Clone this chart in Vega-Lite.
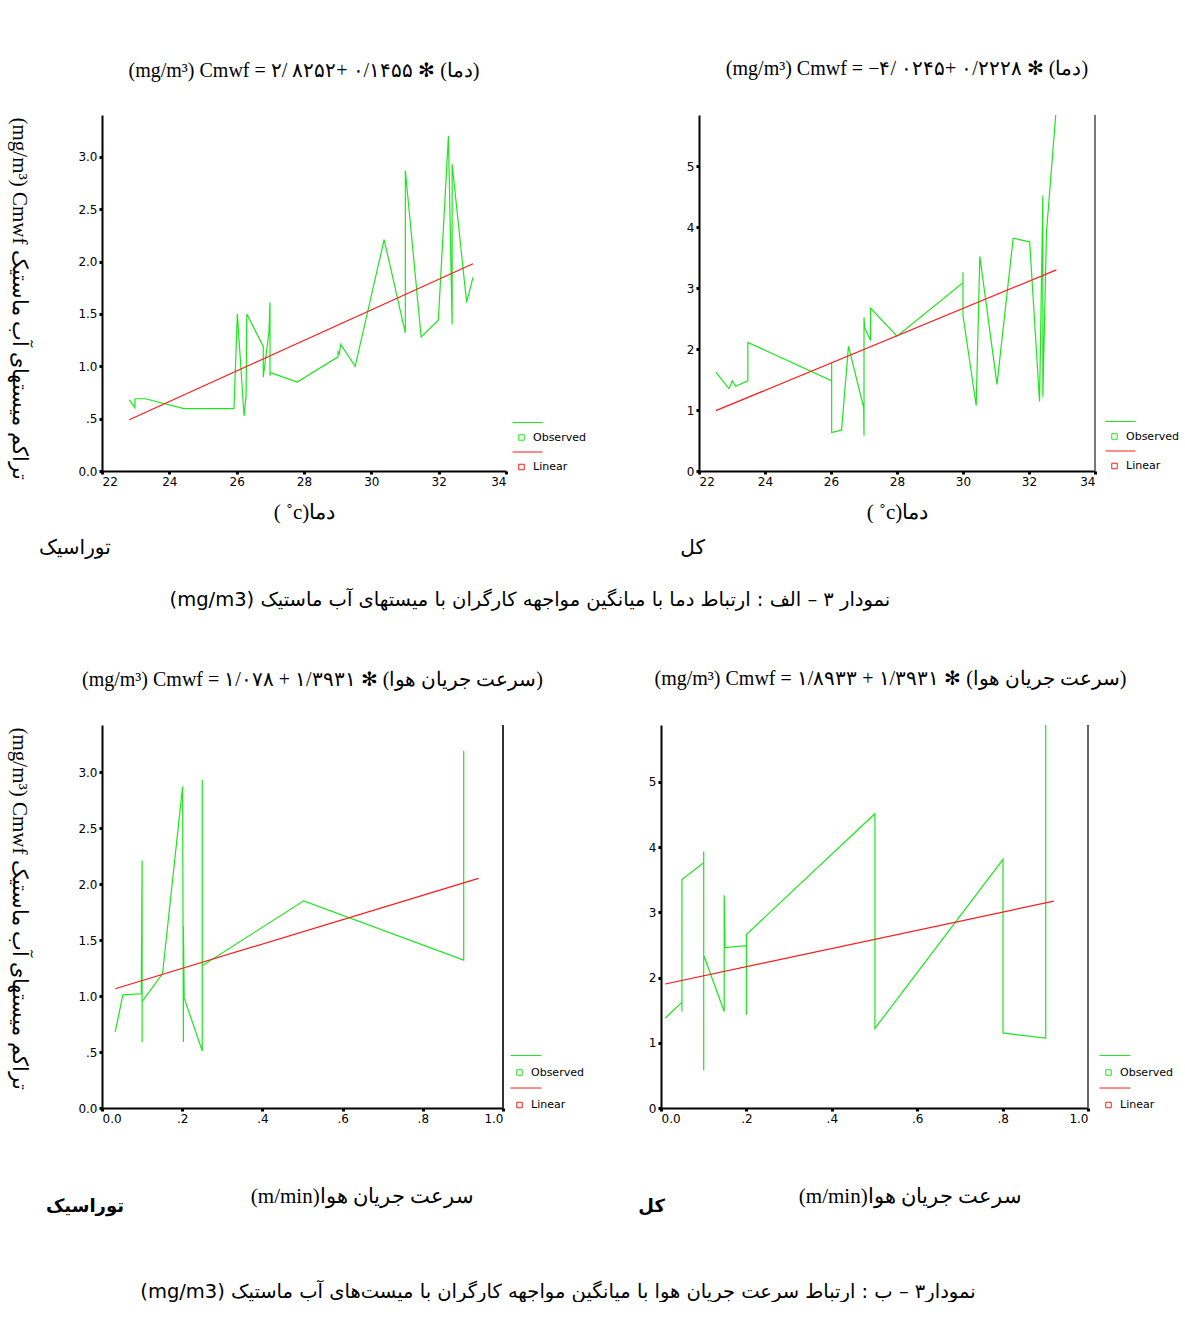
{
  "$schema": "https://vega.github.io/schema/vega-lite/v6.json",
  "padding": {"left": 8, "top": 58, "right": 0, "bottom": 0},
  "background": "white",
  "datasets": {
    "tl": [
      {"i":1,"x":22.81,"y":0.68,"s":"Observed"},{"i":2,"x":22.98,"y":0.605,"s":"Observed"},{"i":3,"x":22.98,"y":0.69,"s":"Observed"},{"i":4,"x":23.29,"y":0.69,"s":"Observed"},{"i":5,"x":24.43,"y":0.595,"s":"Observed"},{"i":6,"x":25.92,"y":0.595,"s":"Observed"},{"i":7,"x":26.02,"y":1.5,"s":"Observed"},{"i":8,"x":26.22,"y":0.525,"s":"Observed"},{"i":9,"x":26.28,"y":0.72,"s":"Observed"},{"i":10,"x":26.3,"y":1.5,"s":"Observed"},{"i":11,"x":26.79,"y":1.19,"s":"Observed"},{"i":12,"x":26.79,"y":0.895,"s":"Observed"},{"i":13,"x":26.96,"y":1.33,"s":"Observed"},{"i":14,"x":26.99,"y":1.61,"s":"Observed"},{"i":15,"x":26.99,"y":0.91,"s":"Observed"},{"i":16,"x":27.0,"y":0.94,"s":"Observed"},{"i":17,"x":27.8,"y":0.85,"s":"Observed"},{"i":18,"x":29.01,"y":1.09,"s":"Observed"},{"i":19,"x":29.01,"y":1.14,"s":"Observed"},{"i":20,"x":29.05,"y":1.12,"s":"Observed"},{"i":21,"x":29.09,"y":1.21,"s":"Observed"},{"i":22,"x":29.52,"y":1.0,"s":"Observed"},{"i":23,"x":30.38,"y":2.21,"s":"Observed"},{"i":24,"x":31.01,"y":1.32,"s":"Observed"},{"i":25,"x":31.01,"y":2.87,"s":"Observed"},{"i":26,"x":31.48,"y":1.28,"s":"Observed"},{"i":27,"x":31.99,"y":1.44,"s":"Observed"},{"i":28,"x":32.29,"y":3.2,"s":"Observed"},{"i":29,"x":32.4,"y":1.4,"s":"Observed"},{"i":30,"x":32.4,"y":2.93,"s":"Observed"},{"i":31,"x":32.83,"y":1.61,"s":"Observed"},{"i":32,"x":33.02,"y":1.85,"s":"Observed"},
      {"i":1,"x":22.81,"y":0.49,"s":"Linear"},{"i":2,"x":33.02,"y":1.98,"s":"Linear"}
    ],
    "tr": [
      {"i":1,"x":22.51,"y":1.62,"s":"Observed"},{"i":2,"x":22.91,"y":1.35,"s":"Observed"},{"i":3,"x":23.01,"y":1.48,"s":"Observed"},{"i":4,"x":23.11,"y":1.39,"s":"Observed"},{"i":5,"x":23.48,"y":1.48,"s":"Observed"},{"i":6,"x":23.48,"y":2.11,"s":"Observed"},{"i":7,"x":26.02,"y":1.48,"s":"Observed"},{"i":8,"x":26.02,"y":1.78,"s":"Observed"},{"i":9,"x":26.02,"y":0.63,"s":"Observed"},{"i":10,"x":26.32,"y":0.67,"s":"Observed"},{"i":11,"x":26.53,"y":2.05,"s":"Observed"},{"i":12,"x":26.99,"y":1.04,"s":"Observed"},{"i":13,"x":27.0,"y":0.58,"s":"Observed"},{"i":14,"x":27.0,"y":2.52,"s":"Observed"},{"i":15,"x":27.02,"y":2.35,"s":"Observed"},{"i":16,"x":27.2,"y":2.14,"s":"Observed"},{"i":17,"x":27.2,"y":2.67,"s":"Observed"},{"i":18,"x":28.0,"y":2.21,"s":"Observed"},{"i":19,"x":30.0,"y":3.09,"s":"Observed"},{"i":20,"x":30.0,"y":3.26,"s":"Observed"},{"i":21,"x":30.0,"y":2.55,"s":"Observed"},{"i":22,"x":30.4,"y":1.07,"s":"Observed"},{"i":23,"x":30.51,"y":3.52,"s":"Observed"},{"i":24,"x":31.03,"y":1.42,"s":"Observed"},{"i":25,"x":31.52,"y":3.82,"s":"Observed"},{"i":26,"x":32.02,"y":3.76,"s":"Observed"},{"i":27,"x":32.32,"y":1.14,"s":"Observed"},{"i":28,"x":32.42,"y":4.52,"s":"Observed"},{"i":29,"x":32.42,"y":1.22,"s":"Observed"},{"i":30,"x":32.53,"y":3.92,"s":"Observed"},{"i":31,"x":32.81,"y":5.84,"s":"Observed"},
      {"i":1,"x":22.51,"y":0.99,"s":"Linear"},{"i":2,"x":32.83,"y":3.3,"s":"Linear"}
    ],
    "bl": [
      {"i":1,"x":0.033,"y":0.68,"s":"Observed"},{"i":2,"x":0.052,"y":1.01,"s":"Observed"},{"i":3,"x":0.098,"y":1.02,"s":"Observed"},{"i":4,"x":0.1,"y":2.21,"s":"Observed"},{"i":5,"x":0.1,"y":0.59,"s":"Observed"},{"i":6,"x":0.1,"y":0.95,"s":"Observed"},{"i":7,"x":0.151,"y":1.2,"s":"Observed"},{"i":8,"x":0.201,"y":2.87,"s":"Observed"},{"i":9,"x":0.203,"y":0.59,"s":"Observed"},{"i":10,"x":0.203,"y":1.62,"s":"Observed"},{"i":11,"x":0.205,"y":0.98,"s":"Observed"},{"i":12,"x":0.25,"y":0.51,"s":"Observed"},{"i":13,"x":0.25,"y":2.93,"s":"Observed"},{"i":14,"x":0.25,"y":1.27,"s":"Observed"},{"i":15,"x":0.503,"y":1.85,"s":"Observed"},{"i":16,"x":0.902,"y":1.32,"s":"Observed"},{"i":17,"x":0.902,"y":3.19,"s":"Observed"},{"i":18,"x":0.902,"y":1.42,"s":"Observed"},
      {"i":1,"x":0.033,"y":1.065,"s":"Linear"},{"i":2,"x":0.939,"y":2.05,"s":"Linear"}
    ],
    "br": [
      {"i":1,"x":0.01,"y":1.38,"s":"Observed"},{"i":2,"x":0.049,"y":1.62,"s":"Observed"},{"i":3,"x":0.049,"y":1.48,"s":"Observed"},{"i":4,"x":0.049,"y":3.5,"s":"Observed"},{"i":5,"x":0.1,"y":3.76,"s":"Observed"},{"i":6,"x":0.1,"y":3.93,"s":"Observed"},{"i":7,"x":0.1,"y":0.58,"s":"Observed"},{"i":8,"x":0.1,"y":2.34,"s":"Observed"},{"i":9,"x":0.148,"y":1.48,"s":"Observed"},{"i":10,"x":0.148,"y":3.26,"s":"Observed"},{"i":11,"x":0.15,"y":2.46,"s":"Observed"},{"i":12,"x":0.2,"y":2.49,"s":"Observed"},{"i":13,"x":0.2,"y":1.43,"s":"Observed"},{"i":14,"x":0.2,"y":2.66,"s":"Observed"},{"i":15,"x":0.501,"y":4.51,"s":"Observed"},{"i":16,"x":0.501,"y":1.22,"s":"Observed"},{"i":17,"x":0.801,"y":3.81,"s":"Observed"},{"i":18,"x":0.801,"y":1.15,"s":"Observed"},{"i":19,"x":0.901,"y":1.07,"s":"Observed"},{"i":20,"x":0.901,"y":5.87,"s":"Observed"},
      {"i":1,"x":0.01,"y":1.9,"s":"Linear"},{"i":2,"x":0.92,"y":3.17,"s":"Linear"}
    ]
  },
  "concat": [
    {
      "hconcat": [
        {
          "vconcat": [
            {
              "width": 404, "height": 356,
              "title": {"text": "(mg/m³) Cmwf = ۲/ ۸۲۵۲+ ۰/۱۴۵۵ ✻ (دما)", "offset": 34, "frame": "group"},
              "data": {"name": "tl"},
              "mark": {"type": "line", "strokeWidth": 1.2},
              "encoding": {
                "x": {"field": "x", "type": "quantitative", "scale": {"domain": [22, 34], "nice": false, "zero": false},
                      "axis": {"values": [22,24,26,28,30,32,34], "format": "d", "title": "( ˚c)دما", "titlePadding": 14}},
                "y": {"field": "y", "type": "quantitative", "scale": {"domain": [0, 3.4], "nice": false},
                      "axis": {"values": [0,0.5,1,1.5,2,2.5,3], "labelExpr": "datum.value == 0 ? '0.0' : datum.value < 1 ? '.5' : format(datum.value, '.1f')",
                               "title": "(mg/m³) Cmwf تراکم میستهای آب ماستیک", "titleAngle": 90, "titlePadding": 69, "titleFontSize": 21, "titleY": 183}},
                "color": {"field": "s", "type": "nominal",
                          "scale": {"domain": ["Observed","Linear"], "range": ["#1ee61e","#ff1a1a"]},
                          "legend": {"title": null, "orient": "none", "legendX": 414, "legendY": 317, "rowPadding": 6.5, "labelOffset": 6,
                                     "symbolType": "M-3.29,-5.48L7.67,-5.48M-1,-1L1,-1L1,1L-1,1Z", "symbolSize": 30, "symbolStrokeWidth": 1, "symbolFillColor": "transparent"}},
                "order": {"field": "i", "type": "quantitative"}
              }
            }
          ],
          "title": {"text": "توراسیک", "orient": "bottom", "anchor": "start", "offset": 16, "dx": 30, "fontSize": 20, "font": "DejaVu Sans"},
          "resolve": {"scale": {"color": "independent"}, "legend": {"color": "independent"}}
        },
        {
          "vconcat": [
            {
              "width": 396, "height": 356,
              "title": {"text": "(mg/m³) Cmwf =  −۴/ ۰۲۴۵+ ۰/۲۲۲۸ ✻ (دما)", "offset": 34, "dx": 10, "frame": "group"},
              "data": {"name": "tr"},
              "layer": [
                {
                  "mark": {"type": "rule", "color": "#777", "strokeWidth": 2},
                  "encoding": {"x": {"datum": 34, "type": "quantitative"}}
                },
                {
                  "mark": {"type": "line", "strokeWidth": 1.2},
                  "encoding": {
                    "x": {"field": "x", "type": "quantitative", "scale": {"domain": [22, 34], "nice": false, "zero": false},
                          "axis": {"values": [22,24,26,28,30,32,34], "format": "d", "title": "( ˚c)دما", "titlePadding": 14}},
                    "y": {"field": "y", "type": "quantitative", "scale": {"domain": [0, 5.84], "nice": false},
                          "axis": {"values": [0,1,2,3,4,5], "format": "d", "title": null}},
                    "color": {"field": "s", "type": "nominal",
                              "scale": {"domain": ["Observed","Linear"], "range": ["#1ee61e","#ff1a1a"]},
                              "legend": {"title": null, "orient": "none", "legendX": 410, "legendY": 316, "rowPadding": 6.5, "labelOffset": 6,
                                         "symbolType": "M-3.29,-5.48L7.67,-5.48M-1,-1L1,-1L1,1L-1,1Z", "symbolSize": 30, "symbolStrokeWidth": 1, "symbolFillColor": "transparent"}},
                    "order": {"field": "i", "type": "quantitative"}
                  }
                }
              ]
            }
          ],
          "title": {"text": "کل", "orient": "bottom", "anchor": "start", "offset": 16, "dx": -6, "fontSize": 20, "font": "DejaVu Sans"},
          "resolve": {"scale": {"color": "independent"}, "legend": {"color": "independent"}}
        }
      ],
      "spacing": 94,
      "title": {"text": "(mg/m3)  نمودار ۳ – الف : ارتباط دما با میانگین مواجهه کارگران با میستهای آب ماستیک", "orient": "bottom", "anchor": "middle", "offset": 33, "dx": -64, "fontSize": 19.5, "font": "DejaVu Sans"},
      "resolve": {"scale": {"color": "independent"}, "legend": {"color": "independent"}}
    },
    {
      "hconcat": [
        {
          "vconcat": [
            {
              "width": 401, "height": 383,
              "title": {"text": "(mg/m³) Cmwf = ۱/۰۷۸ + ۱/۳۹۳۱ ✻ (سرعت جریان هوا)", "offset": 34, "dx": 10, "frame": "group"},
              "data": {"name": "bl"},
              "layer": [
                {
                  "mark": {"type": "rule", "color": "#333", "strokeWidth": 2},
                  "encoding": {"x": {"datum": 1, "type": "quantitative"}}
                },
                {
                  "mark": {"type": "line", "strokeWidth": 1.2},
                  "encoding": {
                    "x": {"field": "x", "type": "quantitative", "scale": {"domain": [0, 1], "nice": false},
                          "axis": {"values": [0,0.2,0.4,0.6,0.8,1], "labelExpr": "datum.value == 0 ? '0.0' : datum.value == 1 ? '1.0' : substring(format(datum.value, '.1f'), 1)",
                                   "title": "(m/min)سرعت جریان هوا", "titlePadding": 61, "titleX": 260}},
                    "y": {"field": "y", "type": "quantitative", "scale": {"domain": [0, 3.42], "nice": false},
                          "axis": {"values": [0,0.5,1,1.5,2,2.5,3], "labelExpr": "datum.value == 0 ? '0.0' : datum.value < 1 ? '.5' : format(datum.value, '.1f')",
                                   "title": "(mg/m³) Cmwf تراکم میستهای آب ماستیک", "titleAngle": 90, "titlePadding": 69, "titleFontSize": 21, "titleY": 183}},
                    "color": {"field": "s", "type": "nominal",
                              "scale": {"domain": ["Observed","Linear"], "range": ["#1ee61e","#ff1a1a"]},
                              "legend": {"title": null, "orient": "none", "legendX": 412, "legendY": 342, "rowPadding": 7.5, "labelOffset": 6,
                                         "symbolType": "M-3.29,-6.2L8.0,-6.2M-1,-1L1,-1L1,1L-1,1Z", "symbolSize": 30, "symbolStrokeWidth": 1, "symbolFillColor": "transparent"}},
                    "order": {"field": "i", "type": "quantitative"}
                  }
                }
              ]
            }
          ],
          "title": {"text": "توراسیک", "orient": "bottom", "anchor": "start", "offset": -8, "dx": 37, "fontSize": 18, "fontWeight": "bold", "font": "DejaVu Sans"},
          "resolve": {"scale": {"color": "independent"}, "legend": {"color": "independent"}}
        },
        {
          "vconcat": [
            {
              "width": 427, "height": 383,
              "title": {"text": "(mg/m³) Cmwf = ۱/۸۹۳۳ + ۱/۳۹۳۱ ✻ (سرعت جریان هوا)", "offset": 34, "dx": 16, "frame": "group"},
              "data": {"name": "br"},
              "layer": [
                {
                  "mark": {"type": "rule", "color": "#666", "strokeWidth": 2},
                  "encoding": {"x": {"datum": 1, "type": "quantitative"}}
                },
                {
                  "mark": {"type": "line", "strokeWidth": 1.2},
                  "encoding": {
                    "x": {"field": "x", "type": "quantitative", "scale": {"domain": [0, 1], "nice": false},
                          "axis": {"values": [0,0.2,0.4,0.6,0.8,1], "labelExpr": "datum.value == 0 ? '0.0' : datum.value == 1 ? '1.0' : substring(format(datum.value, '.1f'), 1)",
                                   "title": "(m/min)سرعت جریان هوا", "titlePadding": 61, "titleX": 249}},
                    "y": {"field": "y", "type": "quantitative", "scale": {"domain": [0, 5.87], "nice": false},
                          "axis": {"values": [0,1,2,3,4,5], "format": "d", "title": null}},
                    "color": {"field": "s", "type": "nominal",
                              "scale": {"domain": ["Observed","Linear"], "range": ["#1ee61e","#ff1a1a"]},
                              "legend": {"title": null, "orient": "none", "legendX": 442, "legendY": 342, "rowPadding": 7.5, "labelOffset": 6,
                                         "symbolType": "M-3.29,-6.2L8.0,-6.2M-1,-1L1,-1L1,1L-1,1Z", "symbolSize": 30, "symbolStrokeWidth": 1, "symbolFillColor": "transparent"}},
                    "order": {"field": "i", "type": "quantitative"}
                  }
                }
              ]
            }
          ],
          "title": {"text": "کل", "orient": "bottom", "anchor": "start", "offset": -8, "dx": -10, "fontSize": 18, "fontWeight": "bold", "font": "DejaVu Sans"},
          "resolve": {"scale": {"color": "independent"}, "legend": {"color": "independent"}}
        }
      ],
      "spacing": 54,
      "title": {"text": "(mg/m3)  نمودار۳ – ب : ارتباط سرعت جریان هوا با میانگین مواجهه کارگران با میست‌های آب ماستیک", "orient": "bottom", "anchor": "middle", "offset": 67, "dx": -33, "fontSize": 19.5, "font": "DejaVu Sans"},
      "resolve": {"scale": {"color": "independent"}, "legend": {"color": "independent"}}
    }
  ],
  "columns": 1,
  "align": "none",
  "spacing": 58,
  "resolve": {"scale": {"color": "independent"}, "legend": {"color": "independent"}},
  "config": {
    "view": {"stroke": null},
    "axis": {"grid": false, "domainColor": "#000", "domainWidth": 2, "tickColor": "#000", "tickSize": 3, "tickWidth": 3,
             "labelFont": "DejaVu Sans", "labelFontSize": 12, "labelColor": "#000", "labelPadding": 2,
             "titleFont": "Liberation Serif", "titleFontSize": 21, "titleFontWeight": "normal", "titleColor": "#000"},
    "title": {"font": "Liberation Serif", "fontSize": 20, "fontWeight": "normal", "color": "#000"},
    "legend": {"labelColor": "#000", "labelFont": "DejaVu Sans", "labelFontSize": 11}
  }
}
